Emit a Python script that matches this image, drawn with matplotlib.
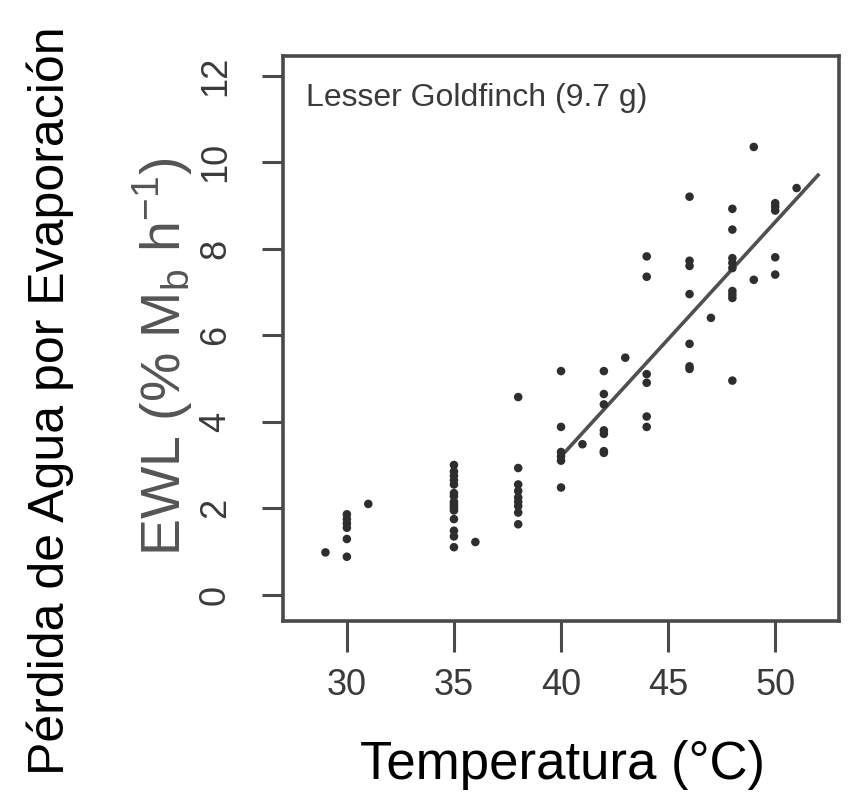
import matplotlib
matplotlib.use('Agg')
import matplotlib.pyplot as plt
import numpy as np

plt.rcParams['font.family'] = ['Liberation Sans', 'DejaVu Sans']

temps = [29, 30, 31, 35, 36, 38, 40, 41, 42, 43, 44, 46, 47, 48, 49, 50, 51]
ewl = [
    [0.98],
    [0.88, 1.29, 1.55, 1.65, 1.75, 1.86],
    [2.1],
    [3.0, 2.85, 2.75, 2.65, 2.55, 2.35, 2.28, 2.15, 2.1, 2.05, 2.0, 1.95,
     1.75, 1.48, 1.35, 1.1],
    [1.22],
    [4.57, 2.93, 2.55, 2.4, 2.25, 2.15, 2.05, 1.9, 1.63],
    [5.17, 3.88, 3.3, 3.2, 3.1, 2.48],
    [3.48],
    [5.17, 4.64, 4.4, 3.8, 3.72, 3.32, 3.28],
    [5.48],
    [7.82, 7.35, 5.1, 4.9, 4.12, 3.88],
    [9.2, 7.72, 7.6, 6.95, 5.8, 5.28, 5.22],
    [6.4],
    [8.92, 8.44, 7.78, 7.67, 7.55, 7.02, 6.94, 6.86, 4.95],
    [10.35, 7.28],
    [9.05, 8.97, 8.88, 7.8, 7.4],
    [9.4],
]

# fitted line above the inflection temperature
fit_range = [40, 52]
fit_slope = 0.5417
fit_intercept = -18.47

xticks = [30, 35, 40, 45, 50]
yticks = [0, 2, 4, 6, 8, 10, 12]

x = np.concatenate([[t] * len(v) for t, v in zip(temps, ewl)])
y = np.concatenate(ewl)

fig = plt.figure(figsize=(8.59, 8.01), dpi=100)
ax = fig.add_axes([0.330, 0.225, 0.647, 0.705])

axcol = '#4a4a4a'
ax.scatter(x, y, s=38, color='#2e2e2e', edgecolors='none', zorder=3)
fx = np.array(fit_range)
ax.plot(fx, fit_intercept + fit_slope * fx, color='#505050', lw=2.6, zorder=2)

ax.set_xlim(27.04, 52.99)
ax.set_ylim(-0.6, 12.45)
ax.set_xticks(xticks)
ax.set_yticks(yticks)
for s in ax.spines.values():
    s.set_color(axcol)
    s.set_linewidth(2.6)
ax.tick_params(axis='x', length=22, width=2.2, color=axcol, pad=12,
               labelsize=26, labelcolor='#3a3a3a')
ax.tick_params(axis='y', length=15, width=2.2, color=axcol, pad=34,
               labelsize=26, labelcolor='#3a3a3a')
for lab in ax.get_yticklabels():
    lab.set_rotation(90)
    lab.set_va('center')
    lab.set_ha('center')

ax.text(0.04, 0.952, 'Lesser Goldfinch (9.7 g)', transform=ax.transAxes,
        fontsize=23, color='#3a3a3a', ha='left', va='top')

fig.text(0.19, 0.555, r'EWL (% M$_\mathregular{b}$ h$^\mathregular{-1}$)',
         rotation=90, fontsize=40, color='#555555', ha='center', va='center')
fig.text(0.058, 0.5, 'Pérdida de Agua por Evaporación', rotation=90,
         fontsize=36, color='black', ha='center', va='center')
fig.text(0.655, 0.045, 'Temperatura (°C)', fontsize=38, color='black',
         ha='center', va='center')

fig.savefig('out.png', dpi=100)
